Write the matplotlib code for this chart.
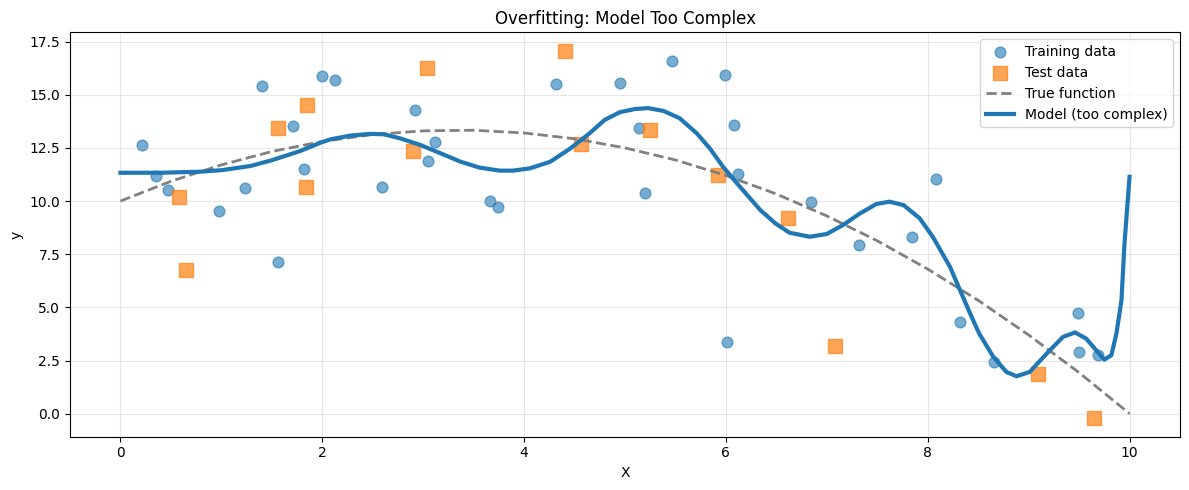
import matplotlib
matplotlib.use("Agg")
import matplotlib.pyplot as plt

train_x = [0.21, 0.35, 0.47, 0.98, 1.23, 1.40, 1.56, 1.71, 1.82, 2.00, 2.13, 2.59,
           2.92, 3.05, 3.12, 3.66, 3.74, 4.32, 4.95, 5.14, 5.20, 5.47, 5.99, 6.01,
           6.08, 6.12, 6.84, 7.32, 7.84, 8.08, 8.32, 8.66, 9.49, 9.50, 9.69]
train_y = [12.62, 11.18, 10.52, 9.53, 10.61, 15.42, 7.13, 13.52, 11.50, 15.89, 15.70, 10.66,
           14.29, 11.89, 12.79, 10.00, 9.72, 15.51, 15.55, 13.44, 10.38, 16.59, 15.93, 3.36,
           13.58, 11.27, 9.94, 7.91, 8.29, 11.03, 4.30, 2.42, 4.73, 2.89, 2.75]

test_x = [0.58, 0.65, 1.56, 1.84, 1.85, 2.90, 3.04, 4.41, 4.56, 5.25, 5.92, 6.62, 7.08, 9.09, 9.65]
test_y = [10.19, 6.75, 13.44, 10.66, 14.52, 12.36, 16.27, 17.07, 12.68, 13.34, 11.21, 9.19, 3.16, 1.88, -0.22]

true_x = [0, 0.5, 1, 1.5, 2, 2.5, 3, 3.5, 4, 4.5, 5, 5.5, 6, 6.5, 7, 7.5, 8, 8.5, 9, 9.5, 10]
true_y = [10.0, 10.93, 11.7, 12.33, 12.8, 13.13, 13.3, 13.33, 13.2, 12.93, 12.5, 11.93,
          11.2, 10.33, 9.3, 8.13, 6.8, 5.33, 3.7, 1.93, 0.0]

model_x = [0.0, 0.4, 0.79, 1.0, 1.29, 1.5, 1.78, 1.98, 2.08, 2.28, 2.48, 2.61, 2.77, 2.97,
           3.17, 3.37, 3.56, 3.76, 3.89, 4.06, 4.26, 4.46, 4.65, 4.80, 4.95, 5.10, 5.23,
           5.38, 5.54, 5.71, 5.84, 5.97, 6.11, 6.34, 6.49, 6.63, 6.83, 7.00, 7.16, 7.33,
           7.49, 7.62, 7.76, 7.92, 8.05, 8.22, 8.42, 8.51, 8.65, 8.78, 8.88, 9.01, 9.18,
           9.34, 9.46, 9.57, 9.67, 9.75, 9.82, 9.87, 9.92, 9.95, 10.0]
model_y = [11.33, 11.33, 11.38, 11.45, 11.65, 11.92, 12.35, 12.74, 12.9, 13.08, 13.16, 13.14,
           12.95, 12.64, 12.25, 11.85, 11.57, 11.43, 11.43, 11.54, 11.85, 12.48, 13.19, 13.82,
           14.18, 14.33, 14.37, 14.24, 13.90, 13.19, 12.48, 11.62, 10.83, 9.58, 8.95, 8.51,
           8.32, 8.45, 8.87, 9.42, 9.86, 9.97, 9.81, 9.19, 8.32, 6.91, 4.71, 3.77, 2.67,
           1.96, 1.76, 1.96, 2.83, 3.61, 3.82, 3.53, 2.98, 2.54, 2.75, 3.77, 5.34, 8.01, 11.14]

fig, ax = plt.subplots(figsize=(12, 5), dpi=100)
ax.scatter(train_x, train_y, s=60, alpha=0.6, color="C0", label="Training data")
ax.scatter(test_x, test_y, s=100, alpha=0.7, color="C1", marker="s", label="Test data")
ax.plot(true_x, true_y, "--", color="gray", lw=2, label="True function")
ax.plot(model_x, model_y, color="C0", lw=3, label="Model (too complex)")
ax.set_title("Overfitting: Model Too Complex")
ax.set_xlabel("X")
ax.set_ylabel("y")
ax.grid(True, alpha=0.3)
ax.legend(loc="upper right")
fig.tight_layout()
fig.savefig("out.png", bbox_inches="tight")
